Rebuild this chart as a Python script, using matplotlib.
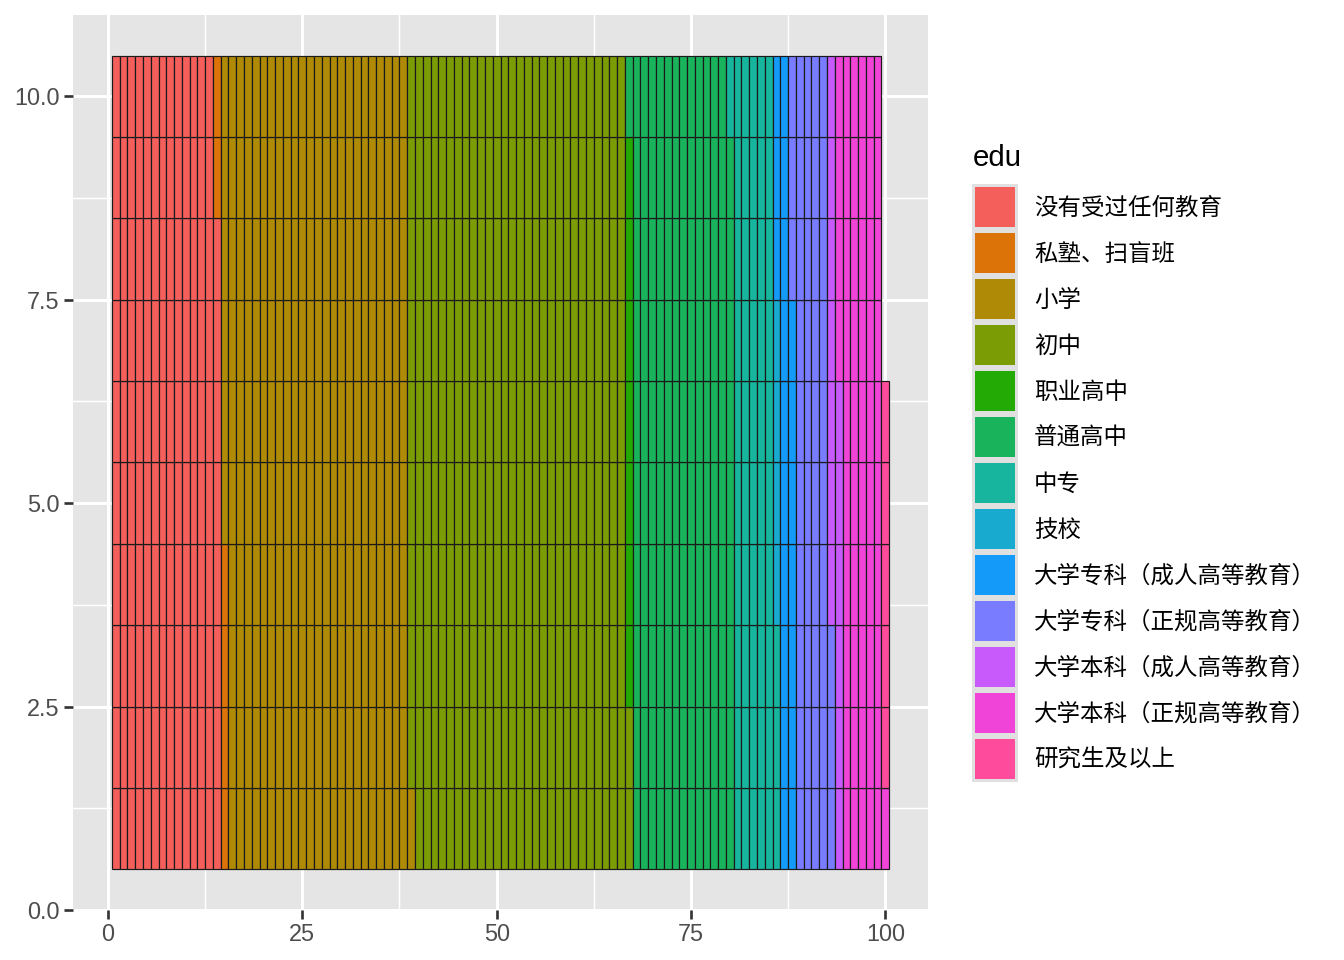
import matplotlib
matplotlib.use("Agg")
import matplotlib.pyplot as plt
from matplotlib.patches import Rectangle
import numpy as np

plt.rcParams['font.family'] = ['Liberation Sans', 'Noto Sans CJK SC', 'DejaVu Sans']

categories = ["没有受过任何教育", "私塾、扫盲班", "小学", "初中", "职业高中", "普通高中",
              "中专", "技校", "大学专科（成人高等教育）", "大学专科（正规高等教育）",
              "大学本科（成人高等教育）", "大学本科（正规高等教育）", "研究生及以上"]
counts = [138, 6, 237, 281, 7, 130, 54, 4, 20, 46, 13, 55, 5]
colors = ["#F45F5C", "#DB7308", "#AF8A06", "#7C9C06", "#24AA05", "#19B35C",
          "#17B59D", "#18ABCF", "#149BFA", "#7A7CFF", "#C85AFC", "#F044D9", "#FF4B9B"]
n_rows = 10
x_ticks = [0, 25, 50, 75, 100]
y_ticks = [0.0, 2.5, 5.0, 7.5, 10.0]
y_ticklabels = ["0.0", "2.5", "5.0", "7.5", "10.0"]
legend_title = "edu"

W, H = 1344, 960
fig = plt.figure(figsize=(7, 5), dpi=192)
ax = fig.add_axes([73 / W, 1 - 910 / H, (928 - 73) / W, (910 - 15) / H])
ax.set_facecolor("#E5E5E5")

start = 0
for cat, n, col in zip(categories, counts, colors):
    idx = np.arange(start, start + n)
    xs = idx // n_rows + 1
    ys = idx % n_rows + 1
    ax.bar(xs, 1.0, bottom=ys - 0.5, width=1.0, color=col, edgecolor="#1a1a1a",
           linewidth=0.45, zorder=3)
    start += n

ax.set_xlim(-4.5, 105.5)
ax.set_ylim(0, 11)
ax.set_xticks(x_ticks)
ax.set_xticklabels([str(v) for v in x_ticks])
ax.set_yticks(y_ticks)
ax.set_yticklabels(y_ticklabels)
ax.set_xticks([12.5, 37.5, 62.5, 87.5], minor=True)
ax.set_yticks([1.25, 3.75, 6.25, 8.75], minor=True)
ax.grid(which="major", color="white", linewidth=1.1, zorder=0)
ax.grid(which="minor", color="white", linewidth=0.55, zorder=0)
ax.set_axisbelow(True)
for s in ax.spines.values():
    s.set_visible(False)
ax.tick_params(which="major", length=3.5, width=1.0, color="#333333",
               labelsize=8.8, labelcolor="#4D4D4D", pad=1.5)
ax.tick_params(which="minor", length=0)

# legend
fig.text(973 / W, 1 - 158 / H, legend_title, fontsize=11, color="black",
         ha="left", va="center")
key_x0, key_w = 972, 46
for i, (cat, col) in enumerate(zip(categories, colors)):
    cy = 207 + 46 * i
    fig.patches.append(Rectangle((key_x0 / W, 1 - (cy + 23) / H), key_w / W, 46 / H,
                                 transform=fig.transFigure, facecolor="#E0E0E0",
                                 edgecolor="none"))
    fig.patches.append(Rectangle(((key_x0 + 3) / W, 1 - (cy + 20) / H), (key_w - 6) / W, 40 / H,
                                 transform=fig.transFigure, facecolor=col,
                                 edgecolor="none"))
    fig.text(1034 / W, 1 - (cy + 1.5) / H, cat, fontsize=8.8, color="black",
             ha="left", va="center")

fig.savefig("out.png", dpi=192, facecolor="white")
